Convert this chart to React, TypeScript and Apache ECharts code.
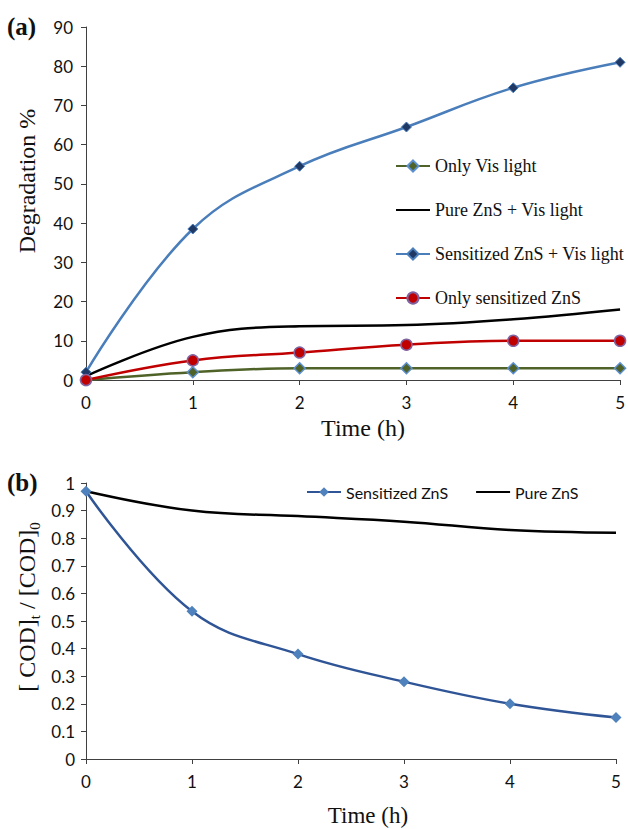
import React, { useEffect, useRef } from "react";
import * as echarts from "echarts";

const hours = [0, 1, 2, 3, 4, 5];
const onlyVis = [0, 2, 3, 3, 3, 3];
const pureZnSVis = [1, 11, 13.7, 14, 15.5, 18];
const sensZnSVis = [2, 38.5, 54.5, 64.5, 74.5, 81];
const onlySens = [0, 5, 7, 9, 10, 10];

const codSens = [0.97, 0.535, 0.38, 0.28, 0.2, 0.15];
const codPure = [0.97, 0.9, 0.88, 0.86, 0.83, 0.82];

const pairs = (ys: number[]) => hours.map((h, i) => [h, ys[i]]);

const SERIF = "'Liberation Serif', 'Times New Roman', serif";
const SANS = "Lato, 'Noto Sans', sans-serif";
const AX = "#404040";

export default function App() {
  const ref = useRef<HTMLDivElement>(null);
  useEffect(() => {
    const chart = echarts.init(ref.current!, null, { renderer: "svg" });
    const xAxisBase = (gridIndex: number) => ({
      type: "value",
      gridIndex,
      min: 0,
      max: 5,
      interval: 1,
      axisLine: { show: true, lineStyle: { color: AX, width: 1 } },
      axisTick: { show: true, length: 5, lineStyle: { color: AX } },
      axisLabel: { color: "#111", fontFamily: SANS, fontSize: 17, margin: 14 },
      splitLine: { show: false },
    });
    const textStyle = (text: string, size: number, weight = "normal", align = "center") => ({
      text,
      fontFamily: SERIF,
      fontSize: size,
      fontWeight: weight,
      fill: "#111",
      align,
      verticalAlign: "middle",
      textAlign: align,
      textVerticalAlign: "middle",
    });
    chart.setOption({
      animation: false,
      backgroundColor: "#fff",
      grid: [
        { left: 86, top: 27, width: 536, height: 353 },
        { left: 86, top: 483, width: 530, height: 276 },
      ],
      xAxis: [xAxisBase(0), xAxisBase(1)],
      yAxis: [
        {
          type: "value",
          gridIndex: 0,
          min: 0,
          max: 90,
          interval: 10,
          axisLine: { show: true, lineStyle: { color: AX, width: 1 } },
          axisTick: { show: true, length: 5, lineStyle: { color: AX } },
          axisLabel: { color: "#111", fontFamily: SANS, fontSize: 17, margin: 13 },
          splitLine: { show: false },
        },
        {
          type: "value",
          gridIndex: 1,
          min: 0,
          max: 1,
          interval: 0.1,
          axisLine: { show: true, lineStyle: { color: AX, width: 1 } },
          axisTick: { show: true, length: 5, lineStyle: { color: AX } },
          axisLabel: { color: "#111", fontFamily: SANS, fontSize: 17, margin: 11 },
          splitLine: { show: false },
        },
      ],
      legend: [
        {
          data: [
            "Only Vis light",
            { name: "Pure ZnS + Vis light", itemStyle: { opacity: 0 } },
            "Sensitized ZnS + Vis light",
            "Only sensitized ZnS",
          ],
          orient: "vertical",
          left: 390,
          top: 152,
          padding: 5,
          itemWidth: 34,
          itemHeight: 14,
          itemGap: 26,
          textStyle: { fontFamily: SERIF, fontSize: 18, color: "#111" },
        },
        {
          data: ["Sensitized ZnS", { name: "Pure ZnS", itemStyle: { opacity: 0 } }],
          orient: "horizontal",
          left: 301,
          top: 479,
          padding: 5,
          itemWidth: 34,
          itemHeight: 12,
          itemGap: 27,
          textStyle: { fontFamily: SANS, fontSize: 16, color: "#111" },
        },
      ],
      series: [
        {
          name: "Only Vis light",
          type: "line",
          xAxisIndex: 0,
          yAxisIndex: 0,
          data: pairs(onlyVis),
          smooth: 0.4,
          symbol: "diamond",
          symbolSize: 11,
          lineStyle: { color: "#4F6228", width: 2.5 },
          itemStyle: { color: "#4F6228", borderColor: "#5B8FD0", borderWidth: 1.5 },
        },
        {
          name: "Pure ZnS + Vis light",
          type: "line",
          xAxisIndex: 0,
          yAxisIndex: 0,
          data: pairs(pureZnSVis),
          smooth: 0.4,
          symbol: "none",
          showSymbol: false,
          lineStyle: { color: "#000", width: 2.5 },
          itemStyle: { color: "#000" },
        },
        {
          name: "Sensitized ZnS + Vis light",
          type: "line",
          xAxisIndex: 0,
          yAxisIndex: 0,
          data: pairs(sensZnSVis),
          smooth: 0.4,
          symbol: "diamond",
          symbolSize: 10,
          lineStyle: { color: "#4A7EBB", width: 2.5 },
          itemStyle: { color: "#1F3864", borderColor: "#4A7EBB", borderWidth: 1 },
        },
        {
          name: "Only sensitized ZnS",
          type: "line",
          xAxisIndex: 0,
          yAxisIndex: 0,
          data: pairs(onlySens),
          smooth: 0.4,
          symbol: "circle",
          symbolSize: 11,
          lineStyle: { color: "#C00000", width: 2.5 },
          itemStyle: { color: "#C00000", borderColor: "#8064A2", borderWidth: 1.5 },
        },
        {
          name: "Sensitized ZnS",
          type: "line",
          xAxisIndex: 1,
          yAxisIndex: 1,
          data: pairs(codSens),
          smooth: 0.4,
          symbol: "diamond",
          symbolSize: 11,
          lineStyle: { color: "#2F5597", width: 2.5 },
          itemStyle: { color: "#4F81BD" },
        },
        {
          name: "Pure ZnS",
          type: "line",
          xAxisIndex: 1,
          yAxisIndex: 1,
          data: pairs(codPure),
          smooth: 0.4,
          symbol: "none",
          showSymbol: false,
          lineStyle: { color: "#000", width: 2.5 },
          itemStyle: { color: "#000" },
        },
      ],
      graphic: [
        { type: "text", x: 7, y: 26, style: textStyle("(a)", 25, "bold", "left") },
        { type: "text", x: 7, y: 482, style: textStyle("(b)", 25, "bold", "left") },
        { type: "text", x: 27, y: 181, rotation: Math.PI / 2, style: textStyle("Degradation %", 24) },
        { type: "text", x: 363, y: 428, style: textStyle("Time (h)", 24) },
        { type: "text", x: 368, y: 815, style: textStyle("Time (h)", 23) },
        {
          type: "text",
          x: 27,
          y: 607,
          rotation: Math.PI / 2,
          style: {
            text: "{m|[ COD]}{s|t}{m| / [COD]}{s|0}",
            fill: "#111",
            align: "center",
            verticalAlign: "middle",
            textAlign: "center",
            textVerticalAlign: "middle",
            rich: {
              m: { fontFamily: SERIF, fontSize: 24, lineHeight: 30, verticalAlign: "middle", fill: "#111", color: "#111" },
              s: { fontFamily: SERIF, fontSize: 15, lineHeight: 15, verticalAlign: "bottom", fill: "#111", color: "#111" },
            },
          },
        },
      ],
    });
    return () => chart.dispose();
  }, []);
  return (
    <div
      ref={ref}
      style={{ position: "absolute", left: 0, top: 0, width: 628, height: 829 }}
    />
  );
}
